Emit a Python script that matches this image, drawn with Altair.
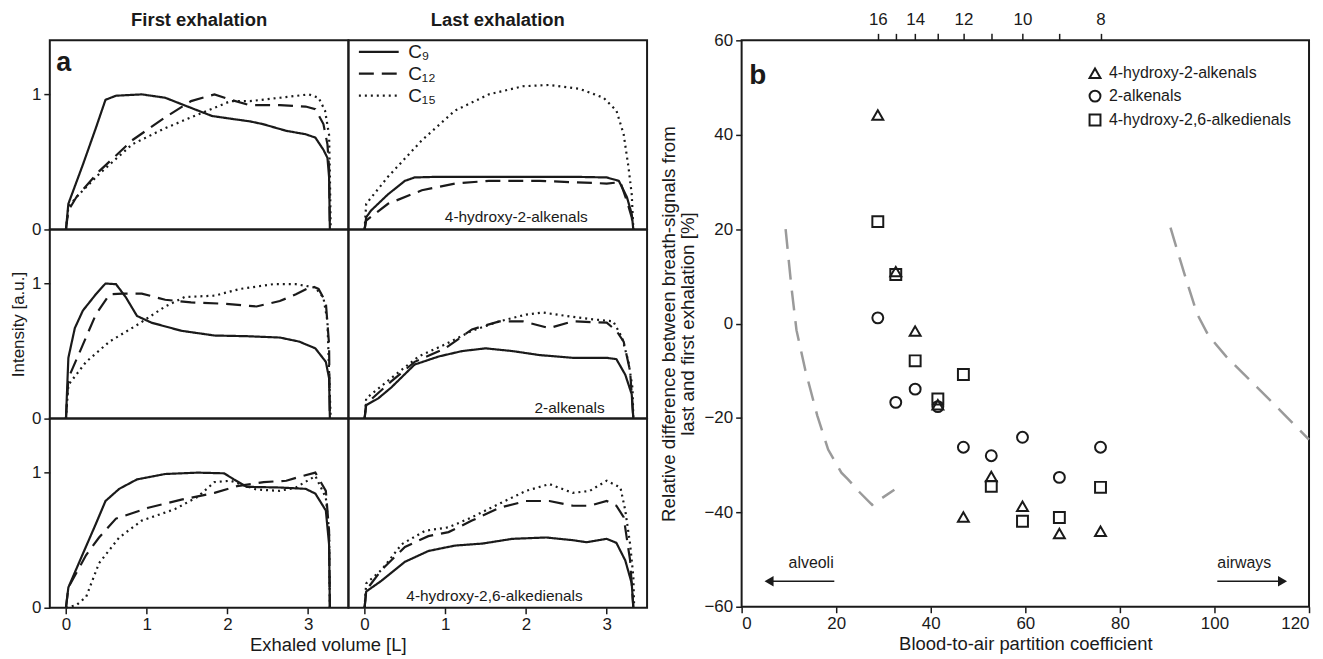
import altair as alt
import pandas as pd

FONT = "Liberation Sans"
INK = "#1a1a1a"
GREY = "#9a9a9a"

# ---------------- Panel a : exhaled-volume profiles ----------------
SERIES = ["C₉", "C₁₂", "C₁₅"]

# 4-hydroxy-2-alkenals, first exhalation
hna_first_c9_v = [0, 0.03, 0.21, 0.37, 0.49, 0.62, 0.94, 1.23, 1.55, 1.81, 2.04, 2.28, 2.44, 2.73, 2.97, 3.09, 3.19, 3.24, 3.26, 3.27]
hna_first_c9_i = [0, 0.19, 0.48, 0.75, 0.96, 0.99, 1.0, 0.975, 0.90, 0.84, 0.82, 0.80, 0.78, 0.73, 0.705, 0.68, 0.59, 0.53, 0.39, 0]
hna_first_c12_v = [0, 0.03, 0.13, 0.41, 0.82, 1.23, 1.55, 1.84, 2.04, 2.28, 2.65, 2.97, 3.09, 3.19, 3.24, 3.26, 3.27]
hna_first_c12_i = [0, 0.14, 0.24, 0.43, 0.66, 0.83, 0.95, 1.0, 0.96, 0.92, 0.92, 0.91, 0.89, 0.78, 0.63, 0.46, 0]
hna_first_c15_v = [0, 0.03, 0.13, 0.41, 0.82, 1.23, 1.63, 2.04, 2.28, 2.65, 3.01, 3.13, 3.21, 3.26, 3.27, 3.28]
hna_first_c15_i = [0, 0.165, 0.24, 0.41, 0.63, 0.75, 0.85, 0.95, 0.95, 0.975, 1.0, 0.975, 0.88, 0.70, 0.41, 0]

# 4-hydroxy-2-alkenals, last exhalation
hna_last_c9_v = [0, 0.02, 0.08, 0.29, 0.5, 0.62, 0.92, 1.75, 2.58, 3.0, 3.15, 3.25, 3.31, 3.33]
hna_last_c9_i = [0, 0.09, 0.14, 0.26, 0.36, 0.385, 0.39, 0.39, 0.39, 0.385, 0.36, 0.24, 0.115, 0]
hna_last_c12_v = [0, 0.02, 0.29, 0.71, 1.12, 1.54, 2.17, 2.58, 3.0, 3.17, 3.25, 3.31, 3.33]
hna_last_c12_i = [0, 0.066, 0.19, 0.29, 0.34, 0.36, 0.36, 0.35, 0.34, 0.35, 0.21, 0.09, 0]
hna_last_c15_v = [0, 0.02, 0.29, 0.71, 1.12, 1.54, 1.96, 2.29, 2.67, 2.96, 3.12, 3.21, 3.27, 3.31, 3.33]
hna_last_c15_i = [0, 0.19, 0.39, 0.66, 0.88, 1.0, 1.06, 1.07, 1.04, 0.975, 0.88, 0.705, 0.46, 0.26, 0]

# 2-alkenals, first exhalation
alk_first_c9_v = [0, 0.03, 0.11, 0.21, 0.37, 0.49, 0.62, 0.74, 0.88, 1.06, 1.43, 1.84, 2.24, 2.65, 2.89, 3.09, 3.22, 3.26, 3.27]
alk_first_c9_i = [0, 0.45, 0.67, 0.80, 0.92, 1.0, 0.995, 0.90, 0.76, 0.71, 0.65, 0.615, 0.61, 0.60, 0.57, 0.52, 0.42, 0.30, 0]
alk_first_c12_v = [0, 0.03, 0.19, 0.37, 0.54, 0.70, 0.94, 1.23, 1.55, 1.96, 2.36, 2.65, 2.85, 3.05, 3.13, 3.22, 3.26, 3.27]
alk_first_c12_i = [0, 0.30, 0.52, 0.77, 0.92, 0.925, 0.925, 0.88, 0.86, 0.85, 0.83, 0.87, 0.92, 0.98, 0.96, 0.86, 0.55, 0]
alk_first_c15_v = [0, 0.03, 0.25, 0.54, 0.90, 1.23, 1.47, 1.84, 2.16, 2.57, 2.85, 3.09, 3.19, 3.24, 3.26, 3.28]
alk_first_c15_i = [0, 0.25, 0.42, 0.57, 0.70, 0.83, 0.90, 0.91, 0.96, 0.995, 0.995, 0.97, 0.895, 0.72, 0.35, 0]

# 2-alkenals, last exhalation
alk_last_c9_v = [0, 0.02, 0.17, 0.33, 0.62, 0.92, 1.21, 1.5, 1.83, 2.17, 2.58, 3.0, 3.12, 3.23, 3.31, 3.33]
alk_last_c9_i = [0, 0.10, 0.15, 0.23, 0.40, 0.46, 0.50, 0.52, 0.50, 0.47, 0.45, 0.45, 0.44, 0.325, 0.18, 0]
alk_last_c12_v = [0, 0.02, 0.33, 0.62, 1.0, 1.33, 1.67, 1.96, 2.29, 2.58, 3.0, 3.12, 3.21, 3.29, 3.33]
alk_last_c12_i = [0, 0.11, 0.275, 0.42, 0.52, 0.66, 0.72, 0.72, 0.67, 0.72, 0.71, 0.65, 0.57, 0.35, 0]
alk_last_c15_v = [0, 0.02, 0.33, 0.67, 1.0, 1.33, 1.67, 2.0, 2.21, 2.5, 2.83, 3.08, 3.19, 3.27, 3.32, 3.33]
alk_last_c15_i = [0, 0.15, 0.30, 0.46, 0.55, 0.65, 0.72, 0.77, 0.785, 0.76, 0.735, 0.72, 0.60, 0.42, 0.225, 0]

# 4-hydroxy-2,6-alkedienals, first exhalation
hdd_first_c9_v = [0, 0.03, 0.21, 0.37, 0.49, 0.66, 0.88, 1.23, 1.63, 1.96, 2.08, 2.24, 2.65, 2.97, 3.09, 3.22, 3.26, 3.27]
hdd_first_c9_i = [0, 0.15, 0.40, 0.62, 0.79, 0.88, 0.95, 0.99, 1.0, 0.995, 0.95, 0.895, 0.89, 0.88, 0.845, 0.72, 0.47, 0]
hdd_first_c12_v = [0, 0.03, 0.25, 0.41, 0.62, 1.02, 1.43, 1.84, 2.12, 2.45, 2.73, 2.93, 3.09, 3.22, 3.26, 3.27]
hdd_first_c12_i = [0, 0.15, 0.39, 0.52, 0.66, 0.74, 0.80, 0.85, 0.90, 0.93, 0.94, 0.975, 1.0, 0.865, 0.57, 0]
hdd_first_c15_v = [0, 0.13, 0.25, 0.41, 0.66, 0.94, 1.35, 1.63, 1.84, 2.04, 2.36, 2.65, 2.85, 3.09, 3.22, 3.26, 3.27]
hdd_first_c15_i = [0, 0.02, 0.08, 0.33, 0.52, 0.645, 0.73, 0.82, 0.93, 0.94, 0.875, 0.865, 0.89, 0.975, 0.815, 0.57, 0]

# 4-hydroxy-2,6-alkedienals, last exhalation
hdd_last_c9_v = [0, 0.02, 0.21, 0.5, 0.79, 1.12, 1.46, 1.83, 2.25, 2.58, 2.75, 3.0, 3.12, 3.23, 3.31, 3.33]
hdd_last_c9_i = [0, 0.12, 0.20, 0.34, 0.42, 0.46, 0.475, 0.51, 0.52, 0.50, 0.485, 0.51, 0.48, 0.35, 0.18, 0]
hdd_last_c12_v = [0, 0.02, 0.21, 0.5, 0.79, 1.04, 1.33, 1.67, 2.0, 2.29, 2.58, 2.79, 3.0, 3.12, 3.21, 3.29, 3.33]
hdd_last_c12_i = [0, 0.13, 0.28, 0.45, 0.53, 0.56, 0.645, 0.74, 0.79, 0.79, 0.755, 0.755, 0.79, 0.755, 0.67, 0.35, 0]
hdd_last_c15_v = [0, 0.02, 0.21, 0.46, 0.75, 1.04, 1.33, 1.67, 2.0, 2.29, 2.58, 2.79, 3.0, 3.17, 3.23, 3.29, 3.33, 3.34]
hdd_last_c15_i = [0, 0.18, 0.28, 0.47, 0.57, 0.595, 0.67, 0.77, 0.865, 0.915, 0.85, 0.865, 0.94, 0.89, 0.72, 0.47, 0.23, 0]

COLUMN_TITLES = ["First exhalation", "Last exhalation"]
CLASS_NOTES = ["4-hydroxy-2-alkenals", "2-alkenals", "4-hydroxy-2,6-alkedienals"]
VOL_TICKS = [0, 1, 2, 3]
INT_TICKS = [0, 1]

# ---------------- Panel b : scatter vs partition coefficient ----------------
partition = [28.8, 32.6, 36.7, 41.5, 46.9, 52.8, 59.4, 67.2, 75.9]
carbon = [16, 15, 14, 13, 12, 11, 10, 9, 8]
diff_hydroxyalkenals = [44.2, 11.0, -1.6, -17.2, -41.0, -32.4, -38.7, -44.5, -44.0]
diff_alkenals = [1.2, -16.7, -13.9, -17.6, -26.2, -28.0, -24.1, -32.6, -26.2]
diff_hydroxyalkedienals = [21.6, 10.4, -7.9, -16.0, -10.8, -34.5, -41.9, -41.1, -34.7]
CLASSES = ["4-hydroxy-2-alkenals", "2-alkenals", "4-hydroxy-2,6-alkedienals"]

guide_left_x = [9.3, 10.5, 11.6, 13.5, 16.0, 18.3, 21.1, 22.5, 25.0, 27.6, 32.3]
guide_left_y = [20.0, 8.0, -1.4, -10.0, -19.5, -26.7, -31.6, -33.0, -35.8, -38.4, -35.2]
guide_right_x = [90.7, 93.5, 96.3, 98.7, 102.5, 108.0, 114.0, 120.0]
guide_right_y = [20.3, 11.0, 2.1, -2.5, -7.0, -12.5, -18.5, -24.6]

PC_TICKS = [0, 20, 40, 60, 80, 100, 120]
DIFF_TICKS = [-60, -40, -20, 0, 20, 40, 60]

TICK_FS = 17
TITLE_FS = 18.5

# ---------------- scales ----------------
XS = alt.Scale(domain=[-0.2, 3.5], nice=False, zero=False)
YS = alt.Scale(domain=[0, 1.4], nice=False, zero=False)
DASH = alt.Scale(domain=SERIES, range=[[1, 0], [15, 8], [2, 4]])

CURVES = [
    [(hna_first_c9_v, hna_first_c9_i), (hna_first_c12_v, hna_first_c12_i), (hna_first_c15_v, hna_first_c15_i)],
    [(hna_last_c9_v, hna_last_c9_i), (hna_last_c12_v, hna_last_c12_i), (hna_last_c15_v, hna_last_c15_i)],
    [(alk_first_c9_v, alk_first_c9_i), (alk_first_c12_v, alk_first_c12_i), (alk_first_c15_v, alk_first_c15_i)],
    [(alk_last_c9_v, alk_last_c9_i), (alk_last_c12_v, alk_last_c12_i), (alk_last_c15_v, alk_last_c15_i)],
    [(hdd_first_c9_v, hdd_first_c9_i), (hdd_first_c12_v, hdd_first_c12_i), (hdd_first_c15_v, hdd_first_c15_i)],
    [(hdd_last_c9_v, hdd_last_c9_i), (hdd_last_c12_v, hdd_last_c12_i), (hdd_last_c15_v, hdd_last_c15_i)],
]
NOTE_POS = [(1.88, 0.09), (2.54, 0.08), (1.61, 0.09)]


def make_cell(idx):
    row, col = divmod(idx, 2)
    left = col == 0
    bottom = row == 2
    recs = []
    for name, (vs, its) in zip(SERIES, CURVES[idx]):
        for k, (v, it) in enumerate(zip(vs, its)):
            recs.append({"series": name, "vol": v, "inten": it, "k": k})
    df = pd.DataFrame(recs)

    x_axis = (alt.Axis(values=VOL_TICKS, format="d", title=None, tickSize=6, labelPadding=3,
                       labelFontSize=TICK_FS) if bottom else None)
    y_axis = (alt.Axis(values=INT_TICKS, format="d",
                       title="Intensity [a.u.]" if row == 1 else None,
                       tickSize=6, labelPadding=3, labelFontSize=TICK_FS,
                       titleFontSize=17, titlePadding=4) if left else None)
    xe = alt.X("vol:Q", scale=XS, axis=x_axis)
    ye = alt.Y("inten:Q", scale=YS, axis=y_axis)

    leg = None
    if idx == 1:
        leg = alt.Legend(orient="none", legendX=19, legendY=0, title=None,
                         symbolType="M-2,0H2", symbolSize=400, symbolStrokeWidth=2.2,
                         symbolStrokeColor=INK, symbolFillColor="transparent",
                         labelFontSize=19, labelOffset=18, labelColor=INK,
                         rowPadding=0, padding=0)

    lines = alt.Chart(df).mark_line(color=INK, strokeWidth=2.2, strokeCap="butt").encode(
        x=xe, y=ye,
        strokeDash=alt.StrokeDash("series:N", scale=DASH, legend=leg),
        order="k:Q",
    )
    layers = [lines]

    if col == 1:
        nx, ny = NOTE_POS[row]
        ndf = pd.DataFrame({"vol": [nx], "inten": [ny], "txt": [CLASS_NOTES[row]]})
        layers.append(alt.Chart(ndf).mark_text(fontSize=15.5, color=INK, align="center",
                                               baseline="middle").encode(x=xe, y=ye, text="txt:N"))
    if idx == 0:
        ldf = pd.DataFrame({"vol": [-0.12], "inten": [1.23], "txt": ["a"]})
        layers.append(alt.Chart(ldf).mark_text(fontSize=27, fontWeight="bold", color=INK,
                                               align="left", baseline="middle").encode(
            x=xe, y=ye, text="txt:N"))

    ch = alt.layer(*layers).properties(width=300, height=190)
    if row == 0:
        ch = ch.properties(title=alt.TitleParams(COLUMN_TITLES[col], fontSize=TITLE_FS, fontWeight="bold",
                                                 offset=11, anchor="middle", color=INK))
    return ch


cells = [make_cell(i) for i in range(6)]
panel_a = alt.concat(*cells, columns=2, spacing=0, bounds="flush").properties(
    title=alt.TitleParams("Exhaled volume [L]", orient="bottom", anchor="middle", fontSize=TITLE_FS,
                          fontWeight="normal", offset=2, color=INK)
).resolve_scale(strokeDash="independent").resolve_legend(strokeDash="independent")

# ---------------- Panel b ----------------
XB = alt.Scale(domain=[0, 120], nice=False, zero=False)
YB = alt.Scale(domain=[-60, 60], nice=False, zero=False)

sc_recs = []
for cls, vals in zip(CLASSES, [diff_hydroxyalkenals, diff_alkenals, diff_hydroxyalkedienals]):
    for p, v in zip(partition, vals):
        sc_recs.append({"pc": p, "diff": v, "cls": cls})
sc_df = pd.DataFrame(sc_recs)

g_recs = []
for gname, xs, ys in [("left", guide_left_x, guide_left_y), ("right", guide_right_x, guide_right_y)]:
    for k, (a, b) in enumerate(zip(xs, ys)):
        g_recs.append({"pc": a, "diff": b, "g": gname, "k": k})
g_df = pd.DataFrame(g_recs)

xb_none = alt.X("pc:Q", scale=XB, axis=None)
YB_AXIS = alt.Axis(values=DIFF_TICKS,
                   title=["Relative difference between breath-signals from",
                          "last and first exhalation [%]"],
                   tickSize=6, labelPadding=3, labelFontSize=TICK_FS,
                   titleFontSize=18.8, titleLineHeight=19, titlePadding=7)
yb = alt.Y("diff:Q", scale=YB, axis=YB_AXIS)

guides = alt.Chart(g_df).mark_line(color=GREY, strokeWidth=2.5, strokeDash=[20, 11],
                                   strokeCap="butt").encode(
    x=xb_none, y=yb, detail="g:N", order="k:Q")

points = alt.Chart(sc_df).mark_point(filled=False, color=INK, strokeWidth=2, size=120, opacity=1).encode(
    x=alt.X("pc:Q", scale=XB, axis=alt.Axis(values=PC_TICKS, title="Blood-to-air partition coefficient",
                                             tickSize=6, labelPadding=3, labelFontSize=TICK_FS,
                                             titleFontSize=TITLE_FS, titlePadding=3, orient="bottom")),
    y=yb,
    shape=alt.Shape("cls:N", scale=alt.Scale(domain=CLASSES, range=["triangle-up", "circle", "square"]),
                    legend=alt.Legend(orient="none", legendX=347, legendY=25, title=None,
                                      symbolSize=120, symbolStrokeWidth=2, symbolStrokeColor=INK,
                                      symbolFillColor="transparent", labelFontSize=16, labelLimit=400,
                                      labelOffset=6, labelColor=INK, rowPadding=4, padding=0)),
)

label_expr = " : ".join(f"datum.value == {p} ? '{c}'" for p, c in zip(partition, carbon) if c % 2 == 0) + " : ''"
top_df = pd.DataFrame({"pc": partition, "diff": [0] * len(partition)})
top_axis = alt.Chart(top_df).mark_point(opacity=0).encode(
    x=alt.X("pc:Q", scale=XB, axis=alt.Axis(orient="top", values=partition, labelExpr=label_expr,
                                             tickSize=7, labelPadding=5, labelFontSize=TICK_FS, title=None)),
    y=yb,
)

arrow_line_df = pd.DataFrame({"pc": [6.5, 100.6], "pc2": [19.6, 114.0], "diff": [-54.6, -54.6]})
arrow_lines = alt.Chart(arrow_line_df).mark_rule(color=INK, strokeWidth=1.5).encode(
    x=xb_none, x2="pc2:Q", y=yb)
heads_df = pd.DataFrame({"pc": [5.8, 114.4], "diff": [-54.6, -54.6], "dir": ["l", "r"]})
arrow_heads = alt.Chart(heads_df).mark_point(filled=True, color=INK, size=110, opacity=1).encode(
    x=xb_none, y=yb,
    shape=alt.Shape("dir:N", scale=alt.Scale(domain=["l", "r"], range=["triangle-left", "triangle-right"]),
                    legend=None))
arrow_text_df = pd.DataFrame({"pc": [14.7, 106.3], "diff": [-50.8, -50.8], "txt": ["alveoli", "airways"]})
arrow_text = alt.Chart(arrow_text_df).mark_text(fontSize=16, color=INK, align="center", baseline="middle").encode(
    x=xb_none, y=yb, text="txt:N")
b_df = pd.DataFrame({"pc": [1.6], "diff": [52.4], "txt": ["b"]})
b_text = alt.Chart(b_df).mark_text(fontSize=28, fontWeight="bold", color=INK, align="left",
                                   baseline="middle").encode(x=xb_none, y=yb, text="txt:N")

panel_b = alt.layer(guides, points, top_axis, arrow_lines, arrow_heads, arrow_text, b_text).resolve_axis(
    x="independent").resolve_scale(shape="independent").resolve_legend(shape="independent").properties(
    width=570, height=569)

chart = alt.hconcat(panel_a, panel_b, spacing=10).resolve_legend(
    strokeDash="independent", shape="independent").resolve_scale(
    strokeDash="independent", shape="independent").configure(
    font=FONT, padding={"left": 0, "top": 0, "right": 0, "bottom": 0}
).configure_view(stroke=INK, strokeWidth=2).configure_axis(
    labelColor=INK, tickColor=INK, titleColor=INK, grid=False, domain=False,
    labelFont=FONT, titleFont=FONT, titleFontWeight="normal", tickWidth=1.5,
).configure_legend(labelFont=FONT)

chart.save("out.html", embed_options={"renderer": "svg", "actions": False})
